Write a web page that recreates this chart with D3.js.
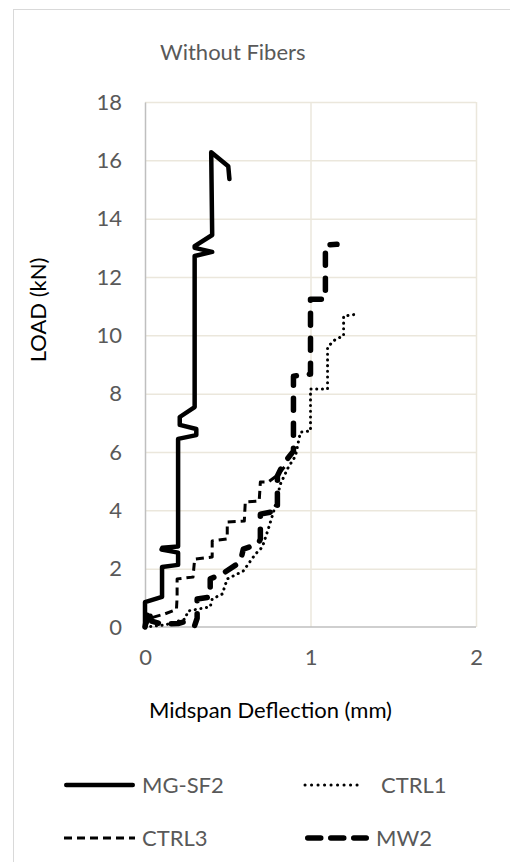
<!DOCTYPE html>
<html>
<head>
<meta charset="utf-8">
<script src="https://cdn.jsdelivr.net/npm/d3@7"></script>
<style>
  body { margin: 0; background: #fff; }
  text { font-family: Lato, "Open Sans", sans-serif; }
</style>
</head>
<body>
<div id="canvas"></div>
<script>
// -------------------------------------------- Data
const title = "Without Fibers";
const xTicks = [0, 1, 2];
const yTicks = [0, 2, 4, 6, 8, 10, 12, 14, 16, 18];

const mgX = [0, 0, 0.103, 0.103, 0.2, 0.2, 0.1, 0.105, 0.2, 0.2, 0.31, 0.31, 0.21, 0.21, 0.3, 0.3, 0.406, 0.3, 0.3, 0.406, 0.4, 0.503, 0.51];
const mgY = [0, 0.85, 1.03, 2.06, 2.13, 2.55, 2.66, 2.72, 2.76, 6.45, 6.58, 6.79, 6.93, 7.2, 7.54, 12.72, 12.86, 13.0, 13.06, 13.44, 16.28, 15.8, 15.36];

const ctrl1X = [0, 0.121, 0.242, 0.26, 0.394, 0.406, 0.467, 0.497, 0.594, 0.667, 0.709, 0.745, 0.782, 0.818, 0.867, 0.909, 0.939, 1.0, 1.0, 1.103, 1.103, 1.152, 1.2, 1.2, 1.285];
const ctrl1Y = [0, 0.07, 0.27, 0.55, 0.69, 0.96, 1.13, 1.65, 1.92, 2.5, 2.74, 3.36, 4.05, 4.9, 5.49, 5.86, 6.68, 6.72, 8.16, 8.16, 9.6, 9.87, 9.98, 10.66, 10.73];

const ctrl3X = [0, 0.03, 0.12, 0.19, 0.194, 0.194, 0.29, 0.3, 0.406, 0.406, 0.497, 0.497, 0.6, 0.606, 0.69, 0.697, 0.745, 0.8, 0.86];
const ctrl3Y = [0, 0.3, 0.45, 0.6, 1.03, 1.65, 1.71, 2.33, 2.4, 2.95, 3.02, 3.6, 3.63, 4.29, 4.32, 4.97, 4.97, 5.2, 5.6];

const mw2X = [0, 0.02, 0.04, 0.1, 0.2, 0.25, 0.3, 0.315, 0.315, 0.394, 0.394, 0.467, 0.576, 0.594, 0.685, 0.697, 0.697, 0.8, 0.8, 0.836, 0.897, 0.897, 1.0, 1.0, 1.09, 1.09, 1.16];
const mw2Y = [0, 0.6, 0.2, 0.1, 0.12, 0.2, 0.05, 0.3, 0.96, 1.03, 1.65, 1.82, 2.23, 2.67, 2.85, 3.02, 3.87, 3.98, 5.18, 5.59, 6.03, 8.6, 8.67, 11.24, 11.24, 13.1, 13.12];

const seriesNames = ["MG-SF2", "CTRL1", "CTRL3", "MW2"];

// -------------------------------------------- Dimensiones del lienzo
const width = 510;
const height = 862;
const margin = { top: 102, left: 145, bottom: 235, right: 34 };
const iwidth = width - margin.left - margin.right;
const iheight = height - margin.top - margin.bottom;

const styles = {
  "MG-SF2": { w: 4.5, dash: null, cap: "round" },
  "CTRL1": { w: 3, dash: "0.1,5.6", cap: "round" },
  "CTRL3": { w: 3, dash: "8,5", cap: "butt" },
  "MW2": { w: 5.5, dash: "12,13", cap: "round" }
};

const svg = d3.select("#canvas").append("svg")
  .attr("width", width)
  .attr("height", height);

// ----- Marco
svg.append("rect")
  .attr("x", 13.5).attr("y", 9.5)
  .attr("width", 520).attr("height", 880)
  .attr("fill", "none")
  .attr("stroke", "#d9d9d9");

svg.append("text")
  .attr("x", 160).attr("y", 60)
  .attr("font-size", 22)
  .attr("fill", "#595959")
  .text(title);

let g = svg.append("g")
  .attr("transform", `translate(${margin.left},${margin.top})`);

const x = d3.scaleLinear().domain([0, 2]).range([0, iwidth]);
const y = d3.scaleLinear().domain([0, 18]).range([iheight, 0]);

// -- Grilla
g.append("g").selectAll("line").data(yTicks.slice(1)).join("line")
  .attr("x1", 0).attr("x2", iwidth)
  .attr("y1", (d) => y(d) + 0.5).attr("y2", (d) => y(d) + 0.5)
  .attr("stroke", "#ebe7dc").attr("stroke-width", 1.5);

g.append("g").selectAll("line").data(xTicks.slice(1)).join("line")
  .attr("x1", (d) => x(d) + 0.5).attr("x2", (d) => x(d) + 0.5)
  .attr("y1", 0).attr("y2", iheight)
  .attr("stroke", "#ebe7dc").attr("stroke-width", 1.5);

// -- Ejes
const yAxis = g.append("g")
  .call(d3.axisLeft(y).tickValues(yTicks).tickSize(0).tickPadding(23).tickFormat(d3.format("d")));
const xAxis = g.append("g")
  .attr("transform", `translate(0,${iheight})`)
  .call(d3.axisBottom(x).tickValues(xTicks).tickSize(0).tickPadding(22).tickFormat(d3.format("d")));

[xAxis, yAxis].forEach((a) => {
  a.select(".domain").attr("stroke", "#bfbfbf").attr("stroke-width", 1.5);
  a.selectAll("text")
    .attr("font-size", 22)
    .attr("fill", "#595959")
    .style("font-family", "Lato, sans-serif");
});
xAxis.select(".domain").remove();
g.append("line")
  .attr("x1", 0).attr("x2", iwidth)
  .attr("y1", iheight).attr("y2", iheight)
  .attr("stroke", "#bfbfbf").attr("stroke-width", 1.5);

svg.append("text")
  .attr("x", 392).attr("y", 718)
  .attr("text-anchor", "end")
  .attr("font-size", 22)
  .attr("fill", "#000")
  .text("Midspan Deflection (mm)");

svg.append("text")
  .attr("transform", "translate(46,310) rotate(-90)")
  .attr("text-anchor", "middle")
  .attr("font-size", 22)
  .attr("fill", "#000")
  .text("LOAD (kN)");

// -- Series
const series = [
  { name: "MG-SF2", xs: mgX, ys: mgY },
  { name: "CTRL1", xs: ctrl1X, ys: ctrl1Y },
  { name: "CTRL3", xs: ctrl3X, ys: ctrl3Y },
  { name: "MW2", xs: mw2X, ys: mw2Y }
];

const line = d3.line()
  .x((d) => x(d[0]))
  .y((d) => y(d[1]));

g.selectAll(".serie").data(series).join("path")
  .attr("class", "serie")
  .attr("d", (s) => line(s.xs.map((v, i) => [v, s.ys[i]])))
  .attr("fill", "none")
  .attr("stroke", "#000")
  .attr("stroke-width", (s) => styles[s.name].w)
  .attr("stroke-dasharray", (s) => styles[s.name].dash)
  .attr("stroke-linecap", (s) => styles[s.name].cap)
  .attr("stroke-linejoin", "round");

// -- Leyenda
const legPos = [
  { x: 64, y: 785 }, { x: 305, y: 785 },
  { x: 64, y: 838 }, { x: 305, y: 838 }
];
const legLen = { "MG-SF2": 71, "CTRL1": 58, "CTRL3": 71, "MW2": 64 };
const leg = svg.selectAll(".leg").data(seriesNames).join("g")
  .attr("class", "leg")
  .attr("transform", (d, i) => `translate(${legPos[i].x},${legPos[i].y})`);

leg.append("line")
  .attr("x1", (d) => (styles[d].cap === "round" && d !== "CTRL1") ? styles[d].w / 2 : 0)
  .attr("x2", (d) => legLen[d] - ((styles[d].cap === "round" && d !== "CTRL1") ? styles[d].w / 2 : 0))
  .attr("stroke", "#000")
  .attr("stroke-width", (d) => styles[d].w)
  .attr("stroke-dasharray", (d) => d === "MW2" ? "13,10" : (d === "CTRL1" ? "0.1,6.4" : styles[d].dash))
  .attr("stroke-linecap", (d) => styles[d].cap);

leg.append("text")
  .attr("x", (d) => legLen[d] + (d === "CTRL1" ? 18 : 7))
  .attr("dy", "0.35em")
  .attr("font-size", 22)
  .attr("fill", "#595959")
  .text((d) => d);
</script>
</body>
</html>
